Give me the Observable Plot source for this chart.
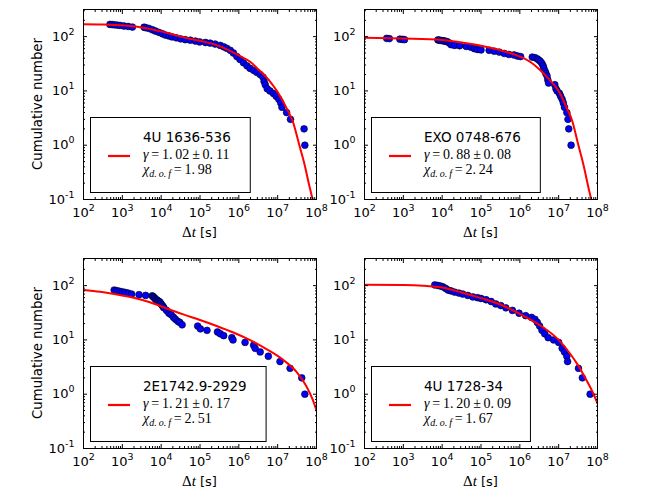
<!DOCTYPE html>
<html><head><meta charset="utf-8">
<script src="https://cdn.jsdelivr.net/npm/d3@7"></script>
<script src="https://cdn.jsdelivr.net/npm/@observablehq/plot@0.6"></script>
<style>
body{margin:0;background:#fff;}
#fig{position:relative;width:664px;height:498px;background:#fff;overflow:hidden;}
#fig svg{position:absolute;}
</style></head><body><div id="fig"></div>
<script>
// ---------- axis ticks ----------
const xMajor = [1e2, 1e3, 1e4, 1e5, 1e6, 1e7, 1e8];
const xTickLabels = ["10^2", "10^3", "10^4", "10^5", "10^6", "10^7", "10^8"];
const yMajor = [1e-1, 1e0, 1e1, 1e2];
const yTickLabels = ["10^-1", "10^0", "10^1", "10^2"];
const xDomain = [1e2, 1e8];
const yDomain = [1e-1, 10 ** 2.5];

// ---------- source names and fit results ----------
const sources = ["4U 1636-536", "EXO 0748-676", "2E1742.9-2929", "4U 1728-34"];
const gammaVal = [1.02, 0.88, 1.21, 1.20];
const gammaErr = [0.11, 0.08, 0.17, 0.09];
const chiDof = [1.98, 2.24, 2.51, 1.67];

// ---------- data: log10(Δt [s]) and cumulative number ----------
const logDt1636 = [2.68, 2.74, 2.80, 2.87, 2.94, 3.04, 3.15, 3.26, 3.56, 3.60, 3.68, 3.77, 3.85, 3.94,
  4.03, 4.11, 4.20, 4.28, 4.39, 4.50, 4.62, 4.75, 4.88, 4.99, 5.14, 5.26, 5.39, 5.52, 5.61, 5.69, 5.78,
  5.86, 5.95, 6.03, 6.12, 6.21, 6.29, 6.38, 6.46, 6.55, 6.62, 6.65, 6.68, 6.73, 6.80, 6.89, 6.96,
  7.03, 7.08, 7.11, 7.23, 7.33, 7.68, 7.70];
const num1636 = [168, 167, 165, 163, 161, 157, 154, 150, 149, 146, 142, 134, 127, 120,
  113, 107, 103, 99, 95, 91, 88, 86, 83, 80, 78, 76, 73, 69, 65, 61, 56,
  50, 43, 38, 33, 29, 26, 24, 22, 20, 18, 15, 13, 11, 10, 9, 8,
  7, 6, 5, 4, 3, 2, 1];

const logDt0748 = [2.57, 2.64, 2.91, 2.98, 3.03, 3.89, 3.93, 3.97, 4.02, 4.06, 4.10, 4.14, 4.19, 4.23,
  4.32, 4.45, 4.62, 4.74, 4.83, 4.91, 5.00, 5.21, 5.34, 5.47, 5.60, 5.72, 5.85, 5.94, 6.02,
  6.32, 6.39, 6.45, 6.49, 6.53, 6.57, 6.60, 6.62, 6.65, 6.67, 6.70, 6.72, 6.74,
  6.90, 6.93, 6.96, 7.02, 7.05, 7.09, 7.12, 7.15, 7.21, 7.24, 7.26, 7.32];
const num0748 = [93, 92, 90, 89, 88, 87, 86, 85, 84, 83, 82, 80, 76, 71,
  69, 68, 66, 64, 60, 58, 57, 56, 54, 52, 49, 47, 46, 44, 43,
  42, 41, 39, 37, 35, 32, 29, 26, 23, 21, 19, 16, 14,
  13, 11, 10, 9, 8, 7, 6, 5, 4, 3, 2, 1];

const logDt1742 = [2.79, 2.85, 2.92, 3.00, 3.07, 3.15, 3.24, 3.43, 3.60, 3.77, 3.79, 3.81, 3.83, 3.85,
  3.87, 3.90, 3.92, 3.94, 3.96, 3.98, 4.00, 4.03, 4.05, 4.07, 4.14, 4.20, 4.26, 4.32, 4.37, 4.43,
  4.48, 4.54, 4.94, 5.01, 5.18, 5.45, 5.52, 5.61, 5.82, 5.85, 6.16, 6.38, 6.42, 6.55, 6.76,
  7.06, 7.32, 7.62, 7.70];
const num1742 = [83, 81, 79, 77, 75, 73, 70, 68, 66, 65, 63, 61, 59, 57,
  55, 54, 52, 51, 50, 48, 46, 43, 41, 39, 35, 31, 29, 26, 24, 22,
  21, 19, 18, 16, 15, 14, 13, 12, 11, 10, 9, 8, 7, 6, 5,
  4, 3, 2, 1];

const logDt1728 = [3.81, 3.89, 3.96, 4.02, 4.09, 4.15, 4.23, 4.32, 4.43, 4.53, 4.66, 4.79, 4.91, 5.00,
  5.13, 5.26, 5.38, 5.51, 5.64, 5.81, 5.98, 6.15, 6.30, 6.39, 6.45, 6.51, 6.57, 6.64, 6.73, 6.87,
  7.00, 7.09, 7.15, 7.21, 7.23, 7.51, 7.61, 7.81];
const num1728 = [103, 101, 98, 95, 89, 83, 80, 76, 73, 70, 66, 62, 60, 58,
  55, 51, 46, 43, 39, 35, 31, 28, 26, 24, 21, 18, 15, 13, 11, 10,
  9, 7, 6, 5, 4, 3, 2, 1];

// ---------- fitted curves ----------
const fitLogDt1636 = [2.0, 2.5, 3.0, 3.5, 4.0, 4.5, 5.0, 5.5, 6.0, 6.3, 6.5, 6.8, 7.0, 7.2, 7.4, 7.55, 7.7, 7.8, 7.9];
const fitNum1636 = [170, 168, 162, 148, 125, 100, 84, 67, 45, 34, 25, 15, 9.5, 5.3, 2.6, 1.05, 0.42, 0.2, 0.1];
const fitLogDt0748 = [2.0, 3.0, 4.0, 4.5, 5.0, 5.5, 6.0, 6.3, 6.5, 6.8, 7.0, 7.2, 7.35, 7.5, 7.65, 7.78, 7.84];
const fitNum0748 = [95, 92, 87, 78, 68, 56, 43, 33, 25, 15, 10, 5, 2.8, 1.05, 0.4, 0.15, 0.1];
const fitLogDt1742 = [2.0, 2.43, 2.86, 3.29, 3.71, 4.14, 4.57, 5.0, 5.43, 5.86, 6.28, 6.71, 7.14, 7.48, 7.74, 7.9, 8.0];
const fitNum1742 = [83, 77, 69, 60, 49.5, 38, 29.5, 23.3, 18.1, 13.7, 10, 6.8, 4.3, 2.6, 1.4, 0.8, 0.5];
const fitLogDt1728 = [2.0, 3.0, 3.5, 4.0, 4.5, 5.0, 5.5, 6.0, 6.5, 7.0, 7.3, 7.5, 7.7, 7.9, 8.0];
const fitNum1728 = [104, 103, 100, 92, 75, 59, 45, 30, 19, 10, 5.5, 3.4, 1.9, 1.0, 0.68];

// minor log ticks (axis furniture)
const xMinor = [];
for (let e = 2; e < 8; e++) for (let k = 2; k < 10; k++) xMinor.push(k * 10 ** e);
const yMinor = [];
for (let e = -1; e < 3; e++) for (let k = 2; k < 10; k++) { const v = k * 10 ** e; if (v <= yDomain[1]) yMinor.push(v); }

const panels = [
  {name: 0, logDt: logDt1636, num: num1636, fx: fitLogDt1636, fy: fitNum1636, left: 0, top: 0, ylab: true},
  {name: 1, logDt: logDt0748, num: num0748, fx: fitLogDt0748, fy: fitNum0748, left: 281, top: 0, ylab: false},
  {name: 2, logDt: logDt1742, num: num1742, fx: fitLogDt1742, fy: fitNum1742, left: 0, top: 249, ylab: true},
  {name: 3, logDt: logDt1728, num: num1728, fx: fitLogDt1728, fy: fitNum1728, left: 281, top: 249, ylab: false}
];

const W = 332, H = 249, ML = 83, MR = 16, MT = 9, MB = 50;
const fig = document.getElementById("fig");
const mathFmt = v => v.toFixed(2).replace(".", ".\u2009");
const blank = () => "";

for (const p of panels) {
  const pts = p.logDt.map((v, i) => ({t: 10 ** v, n: p.num[i]}));
  const fit = p.fx.map((v, i) => ({t: 10 ** v, n: p.fy[i]}));
  const svg = Plot.plot({
    width: W, height: H, marginLeft: ML, marginRight: MR, marginTop: MT, marginBottom: MB,
    style: {background: "transparent", fontFamily: "DejaVu Sans", fontSize: "13px", color: "black", overflow: "visible"},
    x: {type: "log", domain: xDomain},
    y: {type: "log", domain: yDomain},
    marks: [
      Plot.dot(pts, {x: "t", y: "n", r: 3.4, fill: "#0000ff", stroke: "black", strokeWidth: 0.6, clip: true}),
      Plot.line(fit, {x: "t", y: "n", stroke: "#ff0000", strokeWidth: 2, curve: "monotone-x", clip: true}),
      // labels
      Plot.axisX({ticks: xMajor, tickSize: 0, tickPadding: 8, tickFormat: d => xTickLabels[xMajor.indexOf(d)], label: null, fontSize: 13}),
      Plot.axisY({ticks: yMajor, tickSize: 0, tickPadding: 9, tickFormat: d => yTickLabels[yMajor.indexOf(d)], label: null, fontSize: 13}),
      // inward major ticks, all four sides
      Plot.axisX({ticks: xMajor, tickSize: -4, tickFormat: blank, label: null}),
      Plot.axisX({anchor: "top", ticks: xMajor, tickSize: -4, tickFormat: blank, label: null}),
      Plot.axisY({ticks: yMajor, tickSize: -4, tickFormat: blank, label: null}),
      Plot.axisY({anchor: "right", ticks: yMajor, tickSize: -4, tickFormat: blank, label: null}),
      // inward minor ticks
      Plot.axisX({ticks: xMinor, tickSize: -2, tickFormat: blank, label: null}),
      Plot.axisX({anchor: "top", ticks: xMinor, tickSize: -2, tickFormat: blank, label: null}),
      Plot.axisY({ticks: yMinor, tickSize: -2, tickFormat: blank, label: null}),
      Plot.axisY({anchor: "right", ticks: yMinor, tickSize: -2, tickFormat: blank, label: null}),
      Plot.frame({stroke: "black", strokeWidth: 1})
    ]
  });
  svg.style.left = p.left + "px";
  svg.style.top = p.top + "px";
  fig.appendChild(svg);
  const s = d3.select(svg);

  // superscript exponents in tick labels
  s.selectAll("text").each(function () {
    const str = this.textContent;
    if (!str.includes("^")) return;
    const [base, exp] = str.split("^");
    this.textContent = "";
    d3.select(this).append("tspan").text(base);
    d3.select(this).append("tspan").attr("dy", -6).attr("font-size", "9.5px").text(exp);
  });

  const fL = ML, fR = W - MR, fT = MT, fB = H - MB;

  // x label
  const xl = s.append("text").attr("x", (fL + fR) / 2).attr("y", fB + 38).attr("text-anchor", "middle")
    .attr("font-size", "13px").attr("fill", "black");
  xl.append("tspan").attr("font-family", "Liberation Serif").attr("font-size", "15px").text("Δ");
  xl.append("tspan").attr("font-family", "Liberation Serif").attr("font-style", "italic").attr("font-size", "15px").text("t");
  xl.append("tspan").attr("font-family", "DejaVu Sans").text(" [s]");

  if (p.ylab) {
    s.append("text").attr("transform", `translate(${fL - 41},${(fT + fB) / 2}) rotate(-90)`)
      .attr("text-anchor", "middle").attr("font-size", "13.3px").attr("font-family", "DejaVu Sans")
      .attr("fill", "black").text("Cumulative number");
  }

  // legend
  const g = s.append("g").attr("text-anchor", "start");
  const bx = fL + 7.5, by = fT + 108.5, bh = 75;
  const rect = g.append("rect").attr("x", bx).attr("y", by).attr("height", bh)
    .attr("fill", "white").attr("stroke", "black").attr("stroke-width", 1);
  g.append("line").attr("x1", fL + 25).attr("x2", fL + 47).attr("y1", by + 38.5).attr("y2", by + 38.5)
    .attr("stroke", "#ff0000").attr("stroke-width", 2.2);
  const tx = fL + 60;
  const t1 = g.append("text").attr("x", tx).attr("y", by + 24.5).attr("text-anchor", "start").attr("font-family", "DejaVu Sans")
    .attr("font-size", "13.5px").attr("fill", "black").text(sources[p.name]);
  const t2 = g.append("text").attr("x", tx).attr("y", by + 41.5).attr("text-anchor", "start").attr("font-family", "Liberation Serif")
    .attr("font-size", "14px").attr("fill", "black");
  t2.append("tspan").attr("font-style", "italic").text("γ");
  t2.append("tspan").text("\u2009=\u2009" + mathFmt(gammaVal[p.name]) + "\u2009±\u2009" + mathFmt(gammaErr[p.name]));
  const t3 = g.append("text").attr("x", tx).attr("y", by + 56).attr("text-anchor", "start").attr("font-family", "Liberation Serif")
    .attr("font-size", "14px").attr("fill", "black");
  t3.append("tspan").attr("font-style", "italic").text("χ");
  t3.append("tspan").attr("font-style", "italic").attr("font-size", "10px").attr("dy", 3).text("d.\u2009o.\u2009f");
  t3.append("tspan").attr("dy", -3).text("\u2009=\u2009" + mathFmt(chiDof[p.name]));
  const tw = Math.max(t1.node().getComputedTextLength(), t2.node().getComputedTextLength(), t3.node().getComputedTextLength());
  rect.attr("width", 53 + tw + 19);
}
</script></body></html>
